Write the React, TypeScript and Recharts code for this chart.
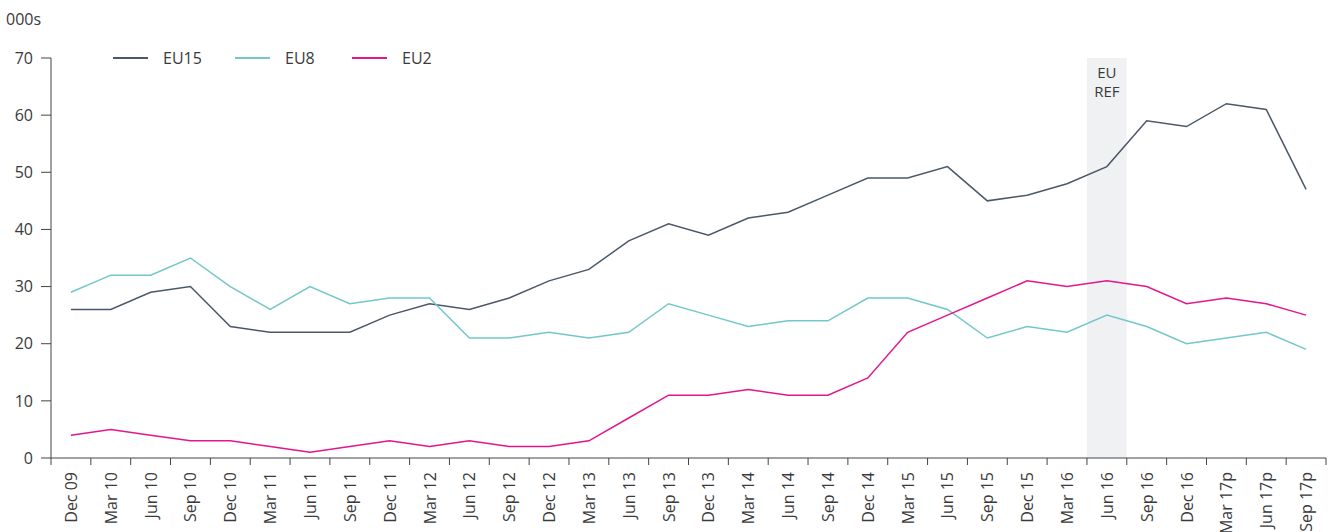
import React from 'react';
import { LineChart, Line, XAxis, YAxis, ReferenceArea } from 'recharts';

const categories = ['Dec 09','Mar 10','Jun 10','Sep 10','Dec 10','Mar 11','Jun 11','Sep 11','Dec 11','Mar 12','Jun 12','Sep 12','Dec 12','Mar 13','Jun 13','Sep 13','Dec 13','Mar 14','Jun 14','Sep 14','Dec 14','Mar 15','Jun 15','Sep 15','Dec 15','Mar 16','Jun 16','Sep 16','Dec 16','Mar 17p','Jun 17p','Sep 17p'];
const eu15 = [26,26,29,30,23,22,22,22,25,27,26,28,31,33,38,41,39,42,43,46,49,49,51,45,46,48,51,59,58,62,61,47];
const eu8 = [29,32,32,35,30,26,30,27,28,28,21,21,22,21,22,27,25,23,24,24,28,28,26,21,23,22,25,23,20,21,22,19];
const eu2 = [4,5,4,3,3,2,1,2,3,2,3,2,2,3,7,11,11,12,11,11,14,22,25,28,31,30,31,30,27,28,27,25];
const yTicks = [0,10,20,30,40,50,60,70];
const refCategory = 'Jun 16';
const refLabel = ['EU', 'REF'];
const unitLabel = '000s';

const series = [
  { key: 'EU15', color: '#4b5868' },
  { key: 'EU8', color: '#72c7c9' },
  { key: 'EU2', color: '#e3168e' },
];

const data = categories.map((c, i) => ({ cat: c, EU15: eu15[i], EU8: eu8[i], EU2: eu2[i] }));

const FONT = '"Open Sans", "Noto Sans", sans-serif';
const TEXT = '#3a3a3a';
const AXIS = '#444';

const CHART_W = 1334;
const CHART_H = 532;
const M = { top: 58, right: 8, left: 0, bottom: 0 };
const Y_W = 51;
const HALF_BAND = (CHART_W - Y_W - M.right) / categories.length / 2;
const LEGEND_ITEM_W = [122, 117, 80];

const XTick = (props: any) => {
  const { x, y, payload, index } = props;
  const last = index === categories.length - 1;
  return (
    <g>
      <line x1={x - HALF_BAND} y1={y - 8} x2={x - HALF_BAND} y2={y - 1} stroke={AXIS} strokeWidth={1} />
      {last && <line x1={x + HALF_BAND} y1={y - 8} x2={x + HALF_BAND} y2={y - 1} stroke={AXIS} strokeWidth={1} />}
      <text
        x={0}
        y={0}
        transform={`translate(${x + 6},${y + 6}) rotate(-90)`}
        textAnchor="end"
        fontSize={16}
        fontFamily={FONT}
        fill={TEXT}
      >
        {payload.value}
      </text>
    </g>
  );
};

const RefLabel = (props: any) => {
  const vb = props.viewBox || {};
  const cx = vb.x + vb.width / 2;
  return (
    <text x={cx} y={vb.y + 20} textAnchor="middle" fontSize={15} fontFamily={FONT} fill={TEXT}>
      <tspan x={cx} dy={0}>{refLabel[0]}</tspan>
      <tspan x={cx} dy={19}>{refLabel[1]}</tspan>
    </text>
  );
};

export default function App() {
  return (
    <div style={{ position: 'absolute', left: 0, top: 0, width: CHART_W, height: CHART_H, background: '#fff' }}>
      <div style={{ position: 'absolute', left: 6, top: 8, fontFamily: FONT, fontSize: 16, color: TEXT }}>{unitLabel}</div>
      <div style={{ position: 'absolute', left: 113, top: 47, display: 'flex', alignItems: 'center', fontFamily: FONT, fontSize: 16, color: TEXT, zIndex: 2 }}>
        {series.map((s, i) => (
          <div key={s.key} style={{ display: 'flex', alignItems: 'center', width: LEGEND_ITEM_W[i] }}>
            <div style={{ width: 35, height: 2, background: s.color, marginRight: 15 }} />
            <span>{s.key}</span>
          </div>
        ))}
      </div>
      <LineChart width={CHART_W} height={CHART_H} data={data} margin={M}>
        <ReferenceArea
          x1={refCategory}
          x2={refCategory}
          y1={0}
          y2={70}
          fill="#f0f1f3"
          fillOpacity={1}
          stroke="none"
          ifOverflow="visible"
          label={<RefLabel />}
        />
        <XAxis
          dataKey="cat"
          type="category"
          scale="band"
          interval={0}
          height={74}
          axisLine={{ stroke: AXIS, strokeWidth: 1 }}
          tickLine={false}
          tick={<XTick />}
        />
        <YAxis
          width={Y_W}
          domain={[0, 70]}
          ticks={yTicks}
          interval={0}
          tickSize={10}
          tickMargin={8}
          axisLine={{ stroke: AXIS, strokeWidth: 1 }}
          tickLine={{ stroke: AXIS, strokeWidth: 1 }}
          tick={{ fontSize: 16, fontFamily: FONT, fill: TEXT }}
        />
        {series.map((s) => (
          <Line
            key={s.key}
            dataKey={s.key}
            stroke={s.color}
            strokeWidth={1.5}
            dot={false}
            activeDot={false}
            isAnimationActive={false}
          />
        ))}
      </LineChart>
    </div>
  );
}
